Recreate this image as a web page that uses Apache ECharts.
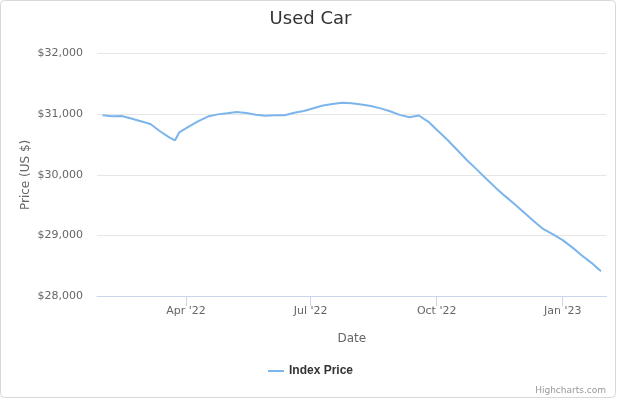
<!DOCTYPE html>
<html>
<head>
<meta charset="utf-8">
<script src="https://cdn.jsdelivr.net/npm/echarts@6/dist/echarts.min.js"></script>
<style>
html,body{margin:0;padding:0;background:#fff;}
#chart{width:621px;height:401px;}
</style>
</head>
<body>
<div id="chart"></div>
<script>
// ---- data ----
var dates = [
  '2022-01-30','2022-02-06','2022-02-13','2022-02-20','2022-02-27','2022-03-06','2022-03-13','2022-03-20',
  '2022-03-24','2022-03-27','2022-04-03','2022-04-10','2022-04-17','2022-04-24','2022-05-01','2022-05-08',
  '2022-05-15','2022-05-22','2022-05-29','2022-06-05','2022-06-12','2022-06-19','2022-06-26','2022-07-03',
  '2022-07-10','2022-07-17','2022-07-24','2022-07-31','2022-08-07','2022-08-14','2022-08-21','2022-08-28',
  '2022-09-04','2022-09-11','2022-09-18','2022-09-25','2022-10-02','2022-10-09','2022-10-16','2022-10-23',
  '2022-10-30','2022-11-06','2022-11-13','2022-11-20','2022-11-27','2022-12-04','2022-12-11','2022-12-18',
  '2022-12-25','2023-01-01','2023-01-08','2023-01-15','2023-01-22','2023-01-29'
];
var indexPrice = [
  30985, 30967, 30972, 30930, 30885, 30840, 30720, 30615,
  30570, 30700, 30795, 30885, 30962, 30998, 31016, 31036,
  31022, 30992, 30977, 30982, 30985, 31025, 31055, 31100,
  31145, 31168, 31188, 31180, 31162, 31135, 31097, 31050,
  30990, 30950, 30980, 30875, 30725, 30575, 30410, 30245,
  30095, 29940, 29790, 29650, 29515, 29375, 29235, 29105,
  29020, 28925, 28805, 28670, 28550, 28410
];
var axisStart = '2022-01-26';
var axisEnd = '2023-02-02';
var quarterStarts = ['01-01', '04-01', '07-01', '10-01'];
var monthNames = ['Jan','Feb','Mar','Apr','May','Jun','Jul','Aug','Sep','Oct','Nov','Dec'];

// ---- build daily categories for the x axis ----
var categories = [];
(function () {
  var d = new Date(axisStart + 'T00:00:00Z');
  var end = new Date(axisEnd + 'T00:00:00Z');
  while (d <= end) {
    categories.push(d.toISOString().slice(0, 10));
    d = new Date(d.getTime() + 86400000);
  }
})();
function isQuarterStart(idx, val) {
  return quarterStarts.indexOf(String(val).slice(5)) >= 0;
}
var seriesData = dates.map(function (d, i) { return [d, indexPrice[i]]; });

var font = '"DejaVu Sans", sans-serif';
var chart = echarts.init(document.getElementById('chart'), null, {renderer: 'canvas'});
chart.setOption({
  animation: false,
  backgroundColor: '#ffffff',
  textStyle: {fontFamily: font},
  title: {
    text: 'Used Car',
    left: 'center',
    top: 5,
    textStyle: {fontSize: 18, fontWeight: 'normal', color: '#333333', fontFamily: font}
  },
  grid: {left: 97, right: 14.5, top: 53.6, bottom: 104.8, containLabel: false},
  xAxis: {
    type: 'category',
    data: categories,
    boundaryGap: false,
    axisLine: {lineStyle: {color: '#ccd6eb', width: 1}},
    axisTick: {show: true, interval: isQuarterStart, length: 10, lineStyle: {color: '#ccd6eb'}},
    axisLabel: {
      interval: isQuarterStart,
      color: '#666666',
      fontSize: 11,
      fontFamily: font,
      margin: 9,
      formatter: function (v) {
        var m = parseInt(v.slice(5, 7), 10) - 1;
        return monthNames[m] + " '" + v.slice(2, 4);
      }
    },
    splitLine: {show: false},
    name: 'Date',
    nameLocation: 'middle',
    nameGap: 37,
    nameMoveOverlap: false,
    nameTextStyle: {color: '#666666', fontSize: 12, fontFamily: font}
  },
  yAxis: {
    type: 'value',
    min: 28000,
    max: 32000,
    interval: 1000,
    axisLine: {show: false},
    axisTick: {show: false},
    axisLabel: {
      color: '#666666',
      fontSize: 11,
      fontFamily: font,
      margin: 14,
      formatter: function (v) { return '$' + v.toLocaleString('en-US'); }
    },
    splitLine: {lineStyle: {color: '#e6e6e6', width: 1}},
    name: 'Price (US $)',
    nameLocation: 'middle',
    nameGap: 65,
    nameRotate: 90,
    nameMoveOverlap: false,
    nameTextStyle: {color: '#666666', fontSize: 12, fontFamily: font}
  },
  legend: {
    data: ['Index Price'],
    left: 'center',
    top: 360,
    icon: 'rect',
    itemWidth: 16,
    itemHeight: 2,
    itemGap: 6,
    textStyle: {color: '#333333', fontSize: 12, fontWeight: 'bold', fontFamily: '"Liberation Sans", Arial, sans-serif'}
  },
  series: [{
    name: 'Index Price',
    type: 'line',
    data: seriesData,
    showSymbol: false,
    symbol: 'none',
    smooth: false,
    color: '#7cb5ec',
    lineStyle: {color: '#7cb5ec', width: 2}
  }],
  graphic: [
    {
      type: 'rect',
      shape: {x: 0.5, y: 0.5, width: 615, height: 397, r: 4},
      style: {fill: 'none', stroke: '#d8d8d8', lineWidth: 1},
      silent: true
    },
    {
      type: 'text',
      right: 15,
      top: 386,
      style: {text: 'Highcharts.com', fill: '#999999', fontSize: 9, fontFamily: font}
    }
  ]
});
</script>
</body>
</html>
